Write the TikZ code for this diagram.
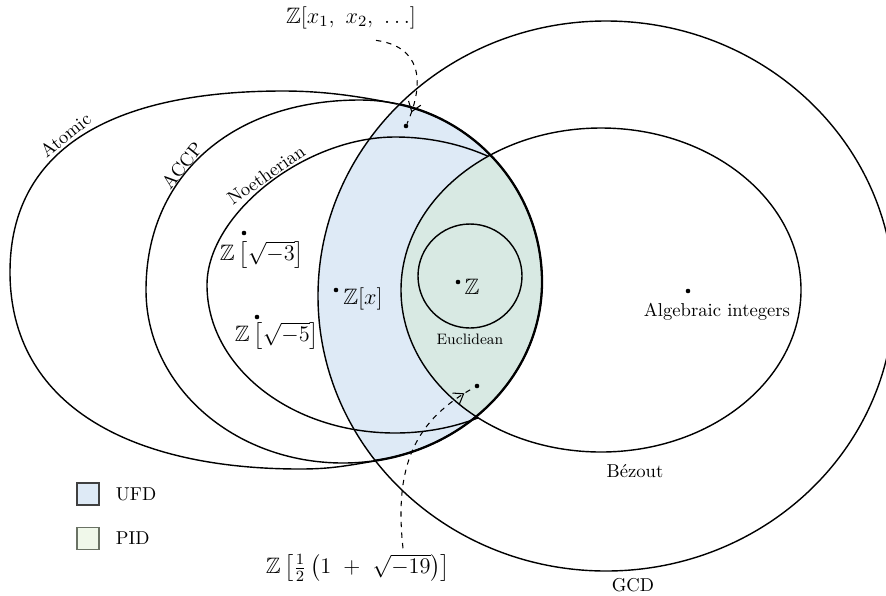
\documentclass[tikz,border=0pt]{standalone}
\usepackage{fix-cm}
\usepackage{amsmath,amssymb}
\usepackage{tikz}
\usetikzlibrary{arrows.meta,decorations.markings,positioning}

\definecolor{ufdblue}{RGB}{222,234,246}
\definecolor{pidgreen}{RGB}{205,232,185}

% ACCP outline; its right part is also the edge of the UFD region
\newcommand{\accpshape}{(542,282) .. controls (542,181) and (460,100) .. (360,100)
  .. controls (232,100) and (146,176) .. (146,290)
  .. controls (146,386) and (234,463) .. (343,463)
  .. controls (453,463) and (542,382) .. (542,282) -- cycle}

\tikzset{
  set/.style={line width=0.8pt},
  ufdedge/.style={line width=1.3pt},
  pid/.style={fill=pidgreen, fill opacity=0.3},
  elt/.style={circle, fill, inner sep=0pt, minimum size=2.6pt},
  lbl/.style={font=\fontsize{12.7}{15}\selectfont},
  rim/.style={anchor=south, inner sep=1pt},
  box/.style={draw=black!75, line width=0.8pt, minimum size=4.4mm, inner sep=0pt},
  pointer/.style={dashed, semithick, postaction={decorate},
    decoration={markings, mark=at position -2.4mm with {\arrow{Straight Barb[length=1.8mm,width=2.6mm]}}}}
}

\begin{document}
\begin{tikzpicture}[x=0.2mm, y=-0.2mm, font=\fontsize{10.6}{12.7}\selectfont]
  \useasboundingbox (0,0) rectangle (886,595);

  % UFD = GCD and ACCP, PID = UFD and Bezout
  \begin{scope}
    \clip (606,296) ellipse (288 and 275);
    \fill[ufdblue] \accpshape;
  \end{scope}
  \begin{scope}
    \clip (601,290) ellipse (200 and 162);
    \fill[pid] \accpshape;
  \end{scope}

  \coordinate (j1) at (397,104);
  \coordinate (j2) at (375,461);
  \draw[set] (j2) .. controls (345,466) and (330,469) .. (300,469)
    .. controls (130,469) and (10,405) .. (10,272)
    .. controls (10,150) and (110,91) .. (283,91)
    .. controls (323,91) and (358,96) .. (j1);
  \draw[set] \accpshape;
  \begin{scope}[even odd rule]
    \clip (0,0) rectangle (886,595) (601,290) ellipse (200 and 162);
    \draw[set] (583,285) .. controls (583,203) and (499,137) .. (395,137)
      .. controls (305,137) and (207,214) .. (207,285)
      .. controls (207,367) and (291,433) .. (395,433)
      .. controls (499,433) and (583,367) .. (583,285) -- cycle;
  \end{scope}
  \draw[set] (606,296) ellipse (288 and 275);
  \draw[set] (601,290) ellipse (200 and 162);
  \begin{scope}
    \clip (606,296) ellipse (288 and 275);
    \draw[ufdedge] \accpshape;
  \end{scope}
  \draw[set] (470,276) circle (52);

  \node[rim, rotate=39] (atomic) at (71,142) {Atomic};
  \node[rim, rotate=51] (accp) at (189,171) {ACCP};
  \node[rim, rotate=35] (noeth) at (271,182) {Noetherian};

  \node[elt] (zinfdot) at (406,126) {};
  \node[lbl] (zinf) at (351,18) {$\mathbb{Z}[x_1,\ x_2,\ \ldots]$};
  \node[elt] (zthreedot) at (244,233) {};
  \node[lbl] (zthree) at (262,255) {$\mathbb{Z}\left[\sqrt{-3}\right]$};
  \node[elt] (zfivedot) at (257,317) {};
  \node[lbl] (zfive) at (277,336) {$\mathbb{Z}\left[\sqrt{-5}\right]$};
  \node[elt] (zxdot) at (336,290) {};
  \node[lbl] (zx) at (363,299) {$\mathbb{Z}[x]$};
  \node[elt] (zdot) at (458,282) {};
  \node[lbl] (z) at (472,287) {$\mathbb{Z}$};
  \node[font=\fontsize{8.6}{10}\selectfont] (eucl) at (470,339) {Euclidean};
  \node[elt] (zhalfdot) at (477,386) {};
  \node[lbl] (zhalf) at (358,568) {$\mathbb{Z}\left[\tfrac{1}{2}\left(1\ +\ \sqrt{-19}\right)\right]$};
  \node[elt] (algdot) at (688,291) {};
  \node (alg) at (717,312) {Algebraic integers};
  \node (bez) at (635,471) {B\'{e}zout};
  \node (gcd) at (633,585) {GCD};

  \draw[pointer] ([xshift=5mm,yshift=-1mm]zinf.south) .. controls +(44,6) and +(20,-46) .. (zinfdot);
  \draw[pointer] ([xshift=9mm]zhalf.north) .. controls +(-9,-83) and +(-62,34) .. (zhalfdot);

  % legend
  \node[box, fill=ufdblue] (ufdbox) at (88,494) {};
  \node[right=2mm of ufdbox] (ufdlbl) {UFD};
  \node[box, below=4.2mm of ufdbox] (pidbox) {};
  \fill[pid] (pidbox.south west) rectangle (pidbox.north east);
  \node[right=2mm of pidbox] (pidlbl) {PID};
\end{tikzpicture}
\end{document}
